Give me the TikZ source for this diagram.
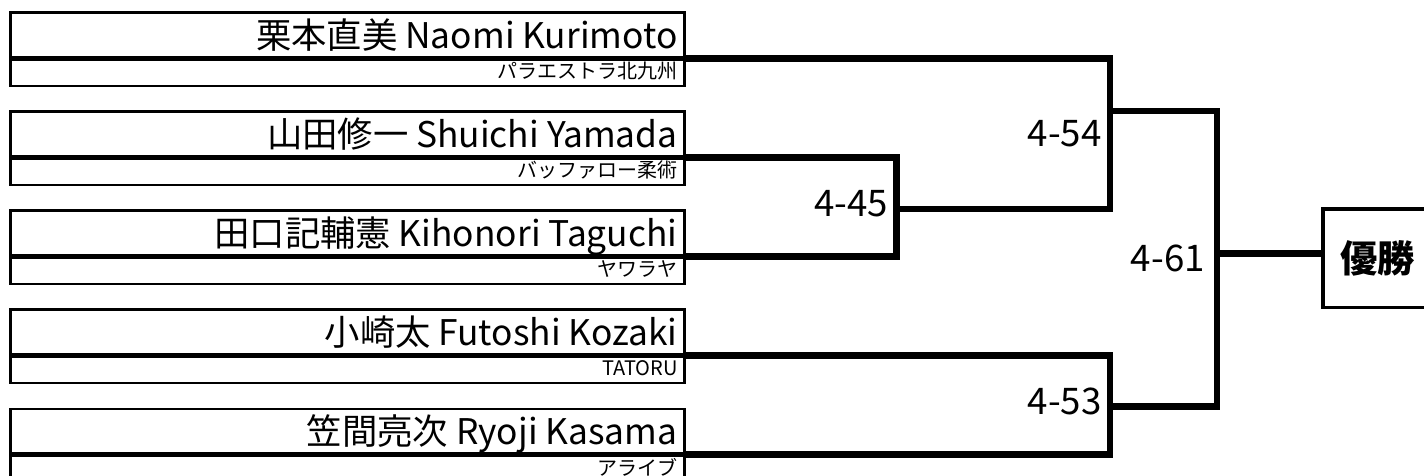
\documentclass[tikz,border=0pt]{standalone}
\usepackage{fontspec}
\setmainfont{Noto Sans CJK JP}
\tikzset{
namebox/.style={draw, line width=2pt, minimum width=505.3pt,
  minimum height=33.15pt, inner sep=0pt, anchor=north west},
clubbox/.style={draw, line width=2pt, minimum width=505.3pt,
  minimum height=19.9pt, inner sep=0pt, anchor=north west},
nametext/.style={inner sep=0pt, anchor=base east,
  font=\fontsize{26.5}{30}\selectfont},
clubtext/.style={inner sep=0pt, anchor=base east,
  font=\fontsize{15}{18}\selectfont},
score/.style={inner sep=0pt, anchor=east,
  font=\fontsize{27.5}{30}\selectfont},
bracket/.style={line width=5pt},
winbox/.style={draw, line width=2.5pt, minimum width=81.75pt,
  minimum height=73.7pt, inner sep=0pt,
  font=\bfseries\fontsize{28}{30}\selectfont}
}
\begin{document}
\begin{tikzpicture}
[x=0.75pt, y=-0.75pt]
\useasboundingbox (0,0) rectangle (1424,475);
\clip (0,0) rectangle (1424,475);
\foreach \i/\top/\nm/\club in {
1/11.3/栗本直美 Naomi Kurimoto/パラエストラ北九州,
2/110.3/山田修一 Shuichi Yamada/バッファロー柔術,
3/209.3/田口記輔憲 Kihonori Taguchi/ヤワラヤ,
4/308.3/小崎太 Futoshi Kozaki/TATORU,
5/407.5/笠間亮次 Ryoji Kasama/アライブ}{
\node[namebox] (nb\i) at (9.3,\top) {};
\node[clubbox] (cb\i) at (nb\i.south west) {};
\node[nametext] (nt\i) at ([xshift=-6pt, yshift=7.1pt]nb\i.south east) {\nm};
\node[clubtext] (ct\i) at ([xshift=-6pt, yshift=-15.6pt]nb\i.south east) {\club};
}
% bracket joints
\coordinate (j1) at (896.3,209);
\coordinate (j2) at (1110,111);
\coordinate (j3) at (1110,406.3);
\coordinate (j4) at (1217,253.3);
\node[winbox] (win) at (1377.5,258.2) {優勝};
\draw[bracket] (nb2.south east) -| (j1) |- (nb3.south east);
\draw[bracket] (nb1.south east) -| (j2) |- (j1);
\draw[bracket] (nb4.south east) -| (j3) |- (nb5.south east);
\draw[bracket] (j2) -| (j4) |- (j3);
\draw[bracket] (j4) -- (j4 -| win.west);
\node[score] (s45) at (888.3,203.8) {4-45};
\node[score] (s54) at (1101.7,133.3) {4-54};
\node[score] (s53) at (1101.7,401.5) {4-53};
\node[score] (s61) at (1205,258.5) {4-61};
\end{tikzpicture}
\end{document}
